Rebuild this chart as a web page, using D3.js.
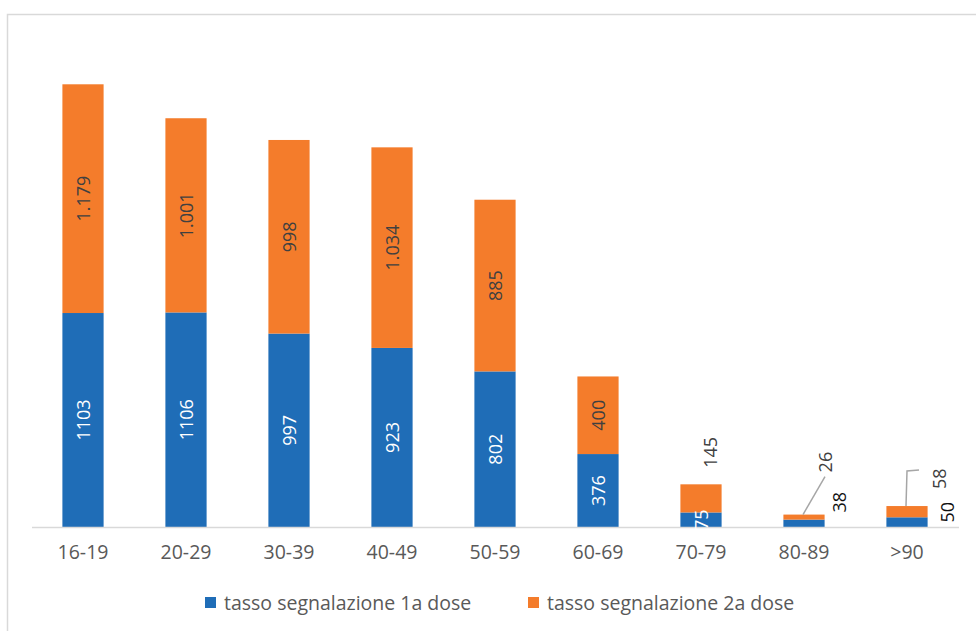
<!DOCTYPE html>
<html>
<head>
<meta charset="utf-8">
<script src="https://cdn.jsdelivr.net/npm/d3@7"></script>
<style>
  body { margin: 0; background: #fff; }
  svg { display: block; font-family: "Open Sans", sans-serif; }
</style>
</head>
<body>
<div id="chart"></div>
<script>
// Age groups and report rates
const categories = ['16-19', '20-29', '30-39', '40-49', '50-59', '60-69', '70-79', '80-89', '>90'];
const dose1 = [1103, 1106, 997, 923, 802, 376, 75, 38, 50];
const dose2 = [1179, 1001, 998, 1034, 885, 400, 145, 26, 58];
const seriesNames = ['tasso segnalazione 1a dose', 'tasso segnalazione 2a dose'];
const colors = ['#1F6DB7', '#F47C2B'];

const W = 976, H = 631;
const baseY = 527;

const svg = d3.select('#chart').append('svg')
    .attr('width', W)
    .attr('height', H);

// Chart frame (only top and left edges visible)
svg.append('rect')
    .attr('x', 7.5).attr('y', 14.5)
    .attr('width', 1000).attr('height', 700)
    .attr('fill', 'none')
    .attr('stroke', '#d9d9d9')
    .attr('stroke-width', 1.5);

const x = d3.scaleBand()
    .domain(categories)
    .range([31.5, 958.5])
    .paddingInner(0.6)
    .paddingOuter(0.3);

const y = d3.scaleLinear()
    .domain([0, 2500])
    .range([baseY, 42]);

// Italian thousands separator for 2nd dose labels
const itFmt = d3.formatLocale({ decimal: ',', thousands: '.', grouping: [3], currency: ['€', ''] }).format(',d');

// Stack data
const rows = categories.map((c, i) => ({ cat: c, d1: dose1[i], d2: dose2[i] }));
const stacked = d3.stack().keys(['d1', 'd2'])(rows);

stacked.forEach((layer, li) => {
    svg.append('g')
        .selectAll('rect')
        .data(layer)
        .enter()
        .append('rect')
        .attr('x', d => x(d.data.cat))
        .attr('y', d => y(d[1]))
        .attr('width', x.bandwidth())
        .attr('height', d => y(d[0]) - y(d[1]))
        .attr('fill', colors[li]);
});

// X axis line
const xAxis = svg.append('g')
    .attr('transform', `translate(0,${baseY})`)
    .call(d3.axisBottom(x).tickSize(0).tickSizeOuter(0).tickFormat(''));
xAxis.select('.domain').attr('stroke', '#d9d9d9').attr('stroke-width', 1.5);

// Category labels, centred under each bar
svg.append('g')
    .selectAll('text')
    .data(categories)
    .enter()
    .append('text')
    .attr('x', d => x(d) + x.bandwidth() / 2)
    .attr('y', 559)
    .attr('text-anchor', 'middle')
    .style('font-size', '19.5px')
    .style('fill', '#595959')
    .text(d => d);

// Data labels (rotated). Offsets for small bars mimic the spreadsheet's moved labels.
const labelOffsets = {
    d1: { '80-89': [36, -21], '>90': [41, -10] },
    d2: { '70-79': [10, -46], '80-89': [22, -55], '>90': [33, -33] }
};
const leaders = {
    '80-89': [[0, 0], [22, -38]],
    '>90': [[0, 0], [1, -35], [13, -36]]
};

const labels = svg.append('g');
stacked.forEach((layer, li) => {
    const key = li === 0 ? 'd1' : 'd2';
    layer.forEach(d => {
        const cx = x(d.data.cat) + x.bandwidth() / 2;
        const cy = (y(d[0]) + y(d[1])) / 2;
        const off = labelOffsets[key][d.data.cat];
        const lx = off ? cx + off[0] : cx + 1;
        const ly = off ? cy + off[1] : cy;
        const inside = !off;
        labels.append('text')
            .attr('transform', `translate(${lx},${ly}) rotate(-90)`)
            .attr('text-anchor', 'middle')
            .attr('dy', '0.35em')
            .style('font-size', '18px')
            .style('fill', inside && li === 0 ? '#ffffff' : (li === 0 ? '#111' : '#404040'))
            .text(li === 0 ? d.data.d1 : itFmt(d.data.d2));
    });
});

// Leader lines for moved labels
Object.keys(leaders).forEach(cat => {
    const i = categories.indexOf(cat);
    const x0 = x(cat) + x.bandwidth() / 2 - 1;
    const y0 = y(dose1[i] + dose2[i]);
    svg.append('path')
        .attr('d', d3.line()(leaders[cat].map(p => [x0 + p[0], y0 + p[1]])))
        .attr('fill', 'none')
        .attr('stroke', '#a6a6a6')
        .attr('stroke-width', 1.5);
});

// Legend
const legend = svg.append('g').attr('transform', 'translate(0,603)');
const legendX = [205, 528];
seriesNames.forEach((name, i) => {
    const g = legend.append('g').attr('transform', `translate(${legendX[i]},0)`);
    g.append('rect')
        .attr('x', 0).attr('y', -6)
        .attr('width', 11).attr('height', 11)
        .attr('fill', colors[i]);
    g.append('text')
        .attr('x', 19).attr('y', 0)
        .attr('dy', '0.35em')
        .style('font-size', '19.5px')
        .style('fill', '#595959')
        .text(name);
});
</script>
</body>
</html>
